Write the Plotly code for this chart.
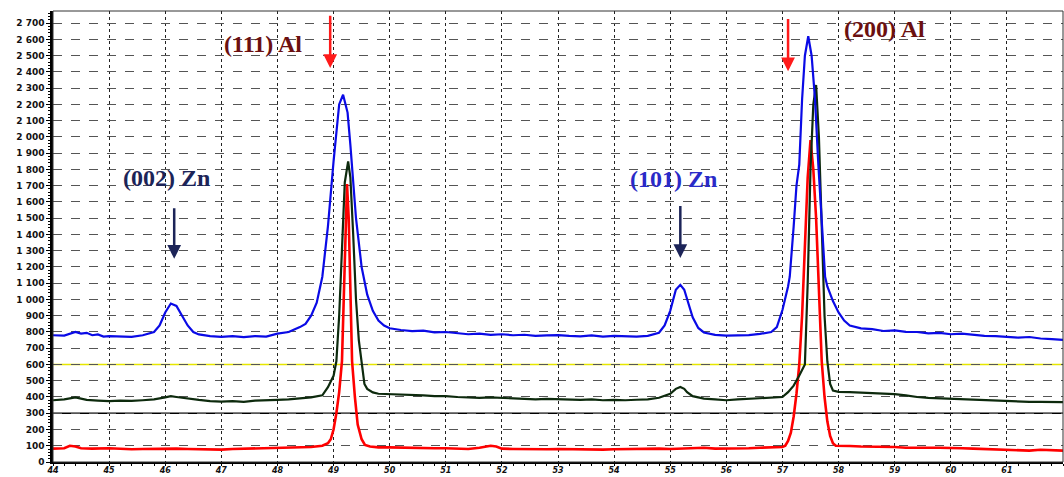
import plotly.graph_objects as go

# ---------------- data ----------------
blue_x = [44.0, 44.2, 44.4, 44.5, 44.6, 44.7, 44.8, 44.9, 45.0, 45.2, 45.4, 45.6, 45.8, 45.9, 46.0, 46.1, 46.2, 46.3,
          46.4, 46.5, 46.6, 46.8, 47.0, 47.2, 47.4, 47.6, 47.8, 48.0, 48.2, 48.4, 48.5, 48.6, 48.7, 48.8, 48.9, 49.0,
          49.05, 49.1, 49.17, 49.25, 49.3, 49.4, 49.5, 49.6, 49.7, 49.8, 49.9, 50.0, 50.2, 50.4, 50.6, 50.8, 51.0,
          51.2, 51.4, 51.6, 51.8, 52.0, 52.2, 52.4, 52.6, 52.8, 53.0, 53.2, 53.4, 53.6, 53.8, 54.0, 54.2, 54.4, 54.6,
          54.8, 54.9, 55.0, 55.1, 55.18, 55.25, 55.3, 55.4, 55.5, 55.6, 55.8, 56.0, 56.2, 56.4, 56.6, 56.8, 56.9,
          57.0, 57.1, 57.13, 57.2, 57.25, 57.3, 57.35, 57.4, 57.46, 57.52, 57.58, 57.64, 57.7, 57.76, 57.8, 57.9,
          58.0, 58.1, 58.2, 58.4, 58.6, 58.8, 59.0, 59.2, 59.4, 59.6, 59.8, 60.0, 60.2, 60.4, 60.6, 60.8, 61.0,
          61.2, 61.4, 61.6, 61.8, 62.0]
blue_y = [780, 778, 800, 790, 795, 780, 785, 772, 775, 772, 770, 780, 800, 840, 920, 975, 960, 900,
          840, 800, 785, 775, 770, 775, 768, 775, 772, 790, 800, 830, 850, 900, 980, 1140, 1450, 1850,
          2050, 2200, 2260, 2150, 1950, 1500, 1200, 1030, 930, 870, 840, 823, 812, 805, 808, 798, 800,
          792, 786, 790, 782, 786, 780, 783, 776, 779, 781, 776, 773, 779, 771, 776, 773, 771, 776,
          795, 840, 930, 1060, 1090, 1060, 1000, 890, 825, 797, 782, 777, 779, 781, 788, 800, 830,
          935, 1080, 1140, 1450, 1700, 1830, 2230, 2500, 2620, 2500, 2234, 1828, 1500, 1140, 1080, 990,
          920, 870, 840, 822, 818, 806, 810, 801, 800, 791, 795, 786, 790, 781, 776, 775, 770,
          765, 769, 760, 756, 752]

green_x = [44.0, 44.2, 44.4, 44.5, 44.6, 44.8, 45.0, 45.2, 45.4, 45.6, 45.8, 46.0, 46.1, 46.2, 46.4, 46.6, 46.8,
           47.0, 47.2, 47.4, 47.6, 47.8, 48.0, 48.2, 48.4, 48.6, 48.8, 48.9, 49.0, 49.05, 49.1, 49.15, 49.2, 49.26,
           49.3, 49.35, 49.4, 49.45, 49.5, 49.55, 49.6, 49.7, 49.8, 50.0, 50.2, 50.4, 50.6, 50.8, 51.0, 51.2,
           51.4, 51.6, 51.8, 52.0, 52.2, 52.4, 52.6, 52.8, 53.0, 53.2, 53.4, 53.6, 53.8, 54.0, 54.2, 54.4, 54.6,
           54.8, 55.0, 55.1, 55.18, 55.25, 55.3, 55.4, 55.6, 55.8, 56.0, 56.2, 56.4, 56.6, 56.8, 57.0, 57.1,
           57.2, 57.3, 57.35, 57.4, 57.45, 57.5, 57.55, 57.6, 57.65, 57.7, 57.75, 57.8, 57.85, 57.9, 58.0, 58.2,
           58.4, 58.6, 58.8, 59.0, 59.2, 59.4, 59.6, 59.8, 60.0, 60.2, 60.4, 60.6, 60.8, 61.0, 61.2, 61.4, 61.6,
           61.8, 62.0]
green_y = [380, 385, 398, 390, 382, 378, 375, 378, 376, 380, 385, 398, 405, 400, 390, 382, 375,
           372, 375, 370, 378, 378, 382, 385, 390, 398, 410, 460, 530, 620, 900, 1350, 1720, 1850,
           1750, 1400, 1000, 750, 600, 480, 450, 428, 420, 418, 415, 412, 410, 405, 405, 400,
           398, 395, 398, 395, 392, 390, 385, 388, 385, 385, 382, 385, 380, 382, 380, 383, 385,
           395, 420, 450, 462, 450, 430, 405, 390, 385, 380, 385, 388, 392, 398, 400, 430,
           470, 532, 570, 600, 1100, 1800, 2200, 2320, 2000, 1400, 900, 620, 480, 440, 432, 430,
           428, 425, 420, 418, 410, 400, 395, 392, 390, 385, 382, 378, 375, 372, 372, 370, 370,
           368, 368]

red_x = [44.0, 44.2, 44.3, 44.4, 44.5, 44.7, 45.0, 45.2, 45.4, 45.6, 45.8, 46.0, 46.2, 46.4, 46.6, 46.8, 47.0,
         47.2, 47.4, 47.6, 47.8, 48.0, 48.2, 48.4, 48.6, 48.8, 48.9, 48.95, 49.0, 49.05, 49.1, 49.15, 49.18,
         49.21, 49.24, 49.27, 49.3, 49.33, 49.38, 49.43, 49.5, 49.56, 49.65, 49.8, 50.0, 50.2, 50.4, 50.6,
         50.8, 51.0, 51.2, 51.4, 51.6, 51.8, 51.9, 52.0, 52.2, 52.4, 52.6, 52.8, 53.0, 53.2, 53.4, 53.6, 53.8,
         54.0, 54.2, 54.4, 54.6, 54.8, 55.0, 55.2, 55.4, 55.6, 55.8, 56.0, 56.2, 56.4, 56.6, 56.8, 57.0,
         57.05, 57.1, 57.15, 57.2, 57.25, 57.3, 57.35, 57.4, 57.45, 57.5, 57.55, 57.6, 57.65, 57.7, 57.75,
         57.8, 57.85, 57.9, 57.95, 58.0, 58.2, 58.4, 58.6, 58.8, 59.0, 59.2, 59.4, 59.6, 59.8, 60.0, 60.2,
         60.4, 60.6, 60.8, 61.0, 61.2, 61.4, 61.6, 61.8, 62.0]
red_y = [82, 85, 100, 95, 85, 82, 85, 80, 78, 80, 82, 80, 82, 80, 78, 80, 76,
         80, 82, 80, 82, 85, 88, 90, 92, 100, 115, 140, 200, 300, 430, 620, 1000,
         1500, 1710, 1500, 1000, 620, 400, 230, 140, 105, 95, 90, 90, 88, 88, 85,
         85, 85, 82, 80, 88, 100, 95, 82, 80, 78, 80, 78, 80, 78, 80, 78, 76,
         78, 80, 78, 80, 82, 80, 82, 85, 88, 82, 82, 84, 85, 88, 90, 92,
         100, 130, 180, 280, 420, 600, 900, 1300, 1750, 1980, 1800, 1500, 1000, 620, 400,
         250, 160, 115, 100, 100, 98, 95, 95, 92, 92, 88, 90, 88, 88, 88, 85,
         82, 80, 80, 78, 72, 70, 75, 72, 70]

ref_levels = [300, 600]
ref_colors = ["#000000", "#e6e600"]

labels = ["(111) Al", "(200) Al", "(002) Zn", "(101) Zn"]
label_x = [47.74, 58.81, 46.03, 55.05]
label_y = [2575, 2665, 1745, 1740]
label_colors = ["#6b1010", "#6b1010", "#1c2458", "#2a2ac8"]

arrow_x = [48.94, 57.10, 46.16, 55.18]
arrow_top = [2755, 2735, 1570, 1585]
arrow_tip = [2425, 2405, 1250, 1255]
arrow_colors = ["#ff1a1a", "#ff1a1a", "#1c2458", "#1c2458"]

# ---------------- figure ----------------
fig = go.Figure()
fig.add_trace(go.Scatter(x=red_x, y=red_y, mode="lines", line=dict(color="#ff0000", width=2.6), showlegend=False))
fig.add_trace(go.Scatter(x=green_x, y=green_y, mode="lines", line=dict(color="#0d2a0d", width=2.2), showlegend=False))
fig.add_trace(go.Scatter(x=blue_x, y=blue_y, mode="lines", line=dict(color="#0a0ae6", width=2.2), showlegend=False))

for lv, c in zip(ref_levels, ref_colors):
    fig.add_shape(type="line", xref="paper", x0=0, x1=1, yref="y", y0=lv, y1=lv,
                  line=dict(color=c, width=1.3), layer="below")

for t, x, y, c in zip(labels, label_x, label_y, label_colors):
    fig.add_annotation(x=x, y=y, text="<b>" + t + "</b>", showarrow=False, xanchor="center", yanchor="middle",
                       font=dict(family="Liberation Serif", size=24, color=c))

for x, y0, y1, c in zip(arrow_x, arrow_top, arrow_tip, arrow_colors):
    fig.add_annotation(x=x, y=y1, ax=x, ay=y0, axref="x", ayref="y", xref="x", yref="y", text="",
                       showarrow=True, arrowhead=2, arrowsize=1.1, arrowwidth=2.5, arrowcolor=c, standoff=0)

tickfont = dict(family="DejaVu Sans", size=9, color="#111111", weight="bold")

fig.update_layout(
    width=1064, height=477,
    margin=dict(l=53, r=1, t=11, b=15),
    paper_bgcolor="white", plot_bgcolor="white",
    separators=". ",
    xaxis=dict(range=[44, 62], dtick=1, tick0=44, showgrid=True, gridcolor="#222222", griddash="dot",
               gridwidth=1, zeroline=False, showline=True, linecolor="black", linewidth=2, mirror=False,
               ticks="outside", ticklen=2, tickcolor="black", automargin=False, ticklabelstandoff=-3,
               minor=dict(ticks="outside", dtick=0.2, ticklen=2, tickcolor="black", showgrid=False),
               tickfont=dict(family="DejaVu Sans", size=8, color="#111111", weight="bold", style="italic")),
    yaxis=dict(range=[0, 2775], dtick=100, tick0=0, tickformat=",d", showgrid=True, gridcolor="#555555",
               griddash="dash", gridwidth=1, zeroline=False, showline=True, linecolor="black", linewidth=2.5,
               ticks="outside", ticklen=4, tickcolor="black", automargin=False,
               minor=dict(ticks="outside", dtick=20, ticklen=2, tickcolor="black", showgrid=False),
               tickfont=tickfont),
)
fig.add_shape(type="rect", xref="paper", yref="paper", x0=0, x1=1, y0=0, y1=1,
              line=dict(color="#333333", width=1))

fig.write_html("out.html")
